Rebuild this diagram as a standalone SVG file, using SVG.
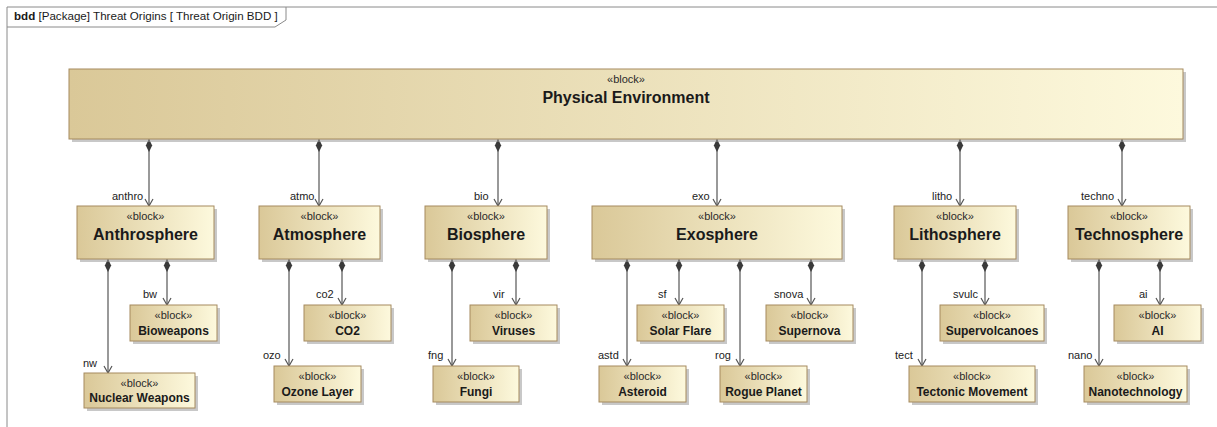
<svg xmlns="http://www.w3.org/2000/svg" width="1217" height="427" viewBox="0 0 1217 427">
<style>
  text { font-family: "Liberation Sans", Arial, sans-serif; fill: #1a1a1a; }
  .box { fill: url(#blk); stroke: #a58a5f; stroke-width: 1; }
  .shd { fill: #9a9a9a; opacity: 0.55; }
  .st { font-size: 11px; text-anchor: middle; fill: #2a2a2a; }
  .big { font-size: 16px; font-weight: bold; text-anchor: middle; }
  .sm { font-size: 12px; font-weight: bold; text-anchor: middle; }
  .lbl { font-size: 11px; fill: #222; }
  .con { stroke: #555; stroke-width: 1.2; fill: none; marker-start: url(#dia); marker-end: url(#arr); }
  .frame { fill: none; stroke: #8a8a8a; stroke-width: 1; }
</style>
<defs>
  <linearGradient id="blk" x1="0" y1="0" x2="1" y2="0">
    <stop offset="0" stop-color="#dac898"/>
    <stop offset="1" stop-color="#fdf9dd"/>
  </linearGradient>
  <marker id="dia" markerUnits="userSpaceOnUse" viewBox="0 -4 14 8" markerWidth="14" markerHeight="8" refX="0" refY="0" orient="auto">
    <path d="M0,0 L6.5,-3.2 L13,0 L6.5,3.2 z" fill="#3a3a3a"/>
  </marker>
  <marker id="arr" markerUnits="userSpaceOnUse" viewBox="-9 -5 10 10" markerWidth="10" markerHeight="10" refX="0" refY="0" orient="auto">
    <path d="M-7,-4 L0,0 L-7,4" fill="none" stroke="#555" stroke-width="1.2"/>
  </marker>
</defs>
<rect x="0" y="0" width="1217" height="427" fill="#ffffff"/>

<g id="frame">
  <path class="frame" d="M7,427 L7,7 L1217,7"/>
  <path class="frame" d="M7,27 L275,27 L286,20 L286,7"/>
  <text x="14" y="20" style="font-size:11.6px"><tspan font-weight="bold">bdd</tspan> [Package] Threat Origins [ Threat Origin BDD ]</text>
</g>

<g id="connectors">
  <line class="con" x1="149" y1="139" x2="149" y2="206"/>
  <line class="con" x1="319" y1="139" x2="319" y2="206"/>
  <line class="con" x1="498" y1="139" x2="498" y2="206"/>
  <line class="con" x1="717" y1="139" x2="717" y2="206"/>
  <line class="con" x1="960" y1="139" x2="960" y2="206"/>
  <line class="con" x1="1122" y1="139" x2="1122" y2="206"/>
  <line class="con" x1="108" y1="259" x2="108" y2="373"/>
  <line class="con" x1="167" y1="259" x2="167" y2="305"/>
  <line class="con" x1="289" y1="259" x2="289" y2="366"/>
  <line class="con" x1="342" y1="259" x2="342" y2="305"/>
  <line class="con" x1="452" y1="259" x2="452" y2="366"/>
  <line class="con" x1="516" y1="259" x2="516" y2="305"/>
  <line class="con" x1="627" y1="259" x2="627" y2="366"/>
  <line class="con" x1="679" y1="259" x2="679" y2="305"/>
  <line class="con" x1="740" y1="259" x2="740" y2="366"/>
  <line class="con" x1="811" y1="259" x2="811" y2="305"/>
  <line class="con" x1="922" y1="259" x2="922" y2="366"/>
  <line class="con" x1="985" y1="259" x2="985" y2="305"/>
  <line class="con" x1="1099" y1="259" x2="1099" y2="366"/>
  <line class="con" x1="1160" y1="259" x2="1160" y2="305"/>
  <text class="lbl" x="112" y="200">anthro</text>
  <text class="lbl" x="290" y="200">atmo</text>
  <text class="lbl" x="474" y="200">bio</text>
  <text class="lbl" x="692" y="200">exo</text>
  <text class="lbl" x="932" y="200">litho</text>
  <text class="lbl" x="1081" y="200">techno</text>
  <text class="lbl" x="143" y="298">bw</text>
  <text class="lbl" x="316" y="298">co2</text>
  <text class="lbl" x="493" y="298">vir</text>
  <text class="lbl" x="658" y="298">sf</text>
  <text class="lbl" x="774" y="298">snova</text>
  <text class="lbl" x="953" y="298">svulc</text>
  <text class="lbl" x="1139" y="298">ai</text>
  <text class="lbl" x="83" y="367">nw</text>
  <text class="lbl" x="263" y="359">ozo</text>
  <text class="lbl" x="428" y="359">fng</text>
  <text class="lbl" x="598" y="359">astd</text>
  <text class="lbl" x="715" y="359">rog</text>
  <text class="lbl" x="895" y="359">tect</text>
  <text class="lbl" x="1068" y="359">nano</text>
</g>

<g id="physical-environment">
  <rect class="shd" x="72" y="72" width="1114" height="70"/>
  <rect class="box" x="69" y="69" width="1114" height="70"/>
  <text class="st" x="626" y="83">«block»</text>
  <text class="big" x="626" y="102.5">Physical Environment</text>
</g>

<g id="anthrosphere">
  <rect class="shd" x="80" y="209" width="137" height="53"/>
  <rect class="box" x="77" y="206" width="137" height="53"/>
  <text class="st" x="145.5" y="220">«block»</text>
  <text class="big" x="145.5" y="239.5">Anthrosphere</text>
</g>
<g id="atmosphere">
  <rect class="shd" x="262" y="209" width="121" height="53"/>
  <rect class="box" x="259" y="206" width="121" height="53"/>
  <text class="st" x="319.5" y="220">«block»</text>
  <text class="big" x="319.5" y="239.5">Atmosphere</text>
</g>
<g id="biosphere">
  <rect class="shd" x="428" y="209" width="122" height="53"/>
  <rect class="box" x="425" y="206" width="122" height="53"/>
  <text class="st" x="486" y="220">«block»</text>
  <text class="big" x="486" y="239.5">Biosphere</text>
</g>
<g id="exosphere">
  <rect class="shd" x="595" y="209" width="250" height="53"/>
  <rect class="box" x="592" y="206" width="250" height="53"/>
  <text class="st" x="717" y="220">«block»</text>
  <text class="big" x="717" y="239.5">Exosphere</text>
</g>
<g id="lithosphere">
  <rect class="shd" x="897" y="209" width="122" height="53"/>
  <rect class="box" x="894" y="206" width="122" height="53"/>
  <text class="st" x="955" y="220">«block»</text>
  <text class="big" x="955" y="239.5">Lithosphere</text>
</g>
<g id="technosphere">
  <rect class="shd" x="1071" y="209" width="122" height="53"/>
  <rect class="box" x="1068" y="206" width="122" height="53"/>
  <text class="st" x="1129" y="220">«block»</text>
  <text class="big" x="1129" y="239.5">Technosphere</text>
</g>

<g id="bioweapons">
  <rect class="shd" x="133" y="308" width="87" height="36"/>
  <rect class="box" x="130" y="305" width="87" height="36"/>
  <text class="st" x="173.5" y="318.5">«block»</text>
  <text class="sm" x="173.5" y="334.5">Bioweapons</text>
</g>
<g id="co2">
  <rect class="shd" x="307" y="308" width="87" height="36"/>
  <rect class="box" x="304" y="305" width="87" height="36"/>
  <text class="st" x="347.5" y="318.5">«block»</text>
  <text class="sm" x="347.5" y="334.5">CO2</text>
</g>
<g id="viruses">
  <rect class="shd" x="473" y="308" width="87" height="36"/>
  <rect class="box" x="470" y="305" width="87" height="36"/>
  <text class="st" x="513.5" y="318.5">«block»</text>
  <text class="sm" x="513.5" y="334.5">Viruses</text>
</g>
<g id="solar-flare">
  <rect class="shd" x="640" y="308" width="87" height="36"/>
  <rect class="box" x="637" y="305" width="87" height="36"/>
  <text class="st" x="680.5" y="318.5">«block»</text>
  <text class="sm" x="680.5" y="334.5">Solar Flare</text>
</g>
<g id="supernova">
  <rect class="shd" x="769" y="308" width="87" height="36"/>
  <rect class="box" x="766" y="305" width="87" height="36"/>
  <text class="st" x="809.5" y="318.5">«block»</text>
  <text class="sm" x="809.5" y="334.5">Supernova</text>
</g>
<g id="supervolcanoes">
  <rect class="shd" x="943" y="308" width="104" height="36"/>
  <rect class="box" x="940" y="305" width="104" height="36"/>
  <text class="st" x="992" y="318.5">«block»</text>
  <text class="sm" x="992" y="334.5">Supervolcanoes</text>
</g>
<g id="ai">
  <rect class="shd" x="1117" y="308" width="87" height="36"/>
  <rect class="box" x="1114" y="305" width="87" height="36"/>
  <text class="st" x="1157.5" y="318.5">«block»</text>
  <text class="sm" x="1157.5" y="334.5">AI</text>
</g>

<g id="nuclear-weapons">
  <rect class="shd" x="87" y="376" width="111" height="35"/>
  <rect class="box" x="84" y="373" width="111" height="35"/>
  <text class="st" x="139.5" y="386.5">«block»</text>
  <text class="sm" x="139.5" y="402">Nuclear Weapons</text>
</g>
<g id="ozone-layer">
  <rect class="shd" x="277" y="369" width="87" height="36"/>
  <rect class="box" x="274" y="366" width="87" height="36"/>
  <text class="st" x="317.5" y="379.5">«block»</text>
  <text class="sm" x="317.5" y="395.5">Ozone Layer</text>
</g>
<g id="fungi">
  <rect class="shd" x="436" y="369" width="86" height="36"/>
  <rect class="box" x="433" y="366" width="86" height="36"/>
  <text class="st" x="476" y="379.5">«block»</text>
  <text class="sm" x="476" y="395.5">Fungi</text>
</g>
<g id="asteroid">
  <rect class="shd" x="602" y="369" width="87" height="36"/>
  <rect class="box" x="599" y="366" width="87" height="36"/>
  <text class="st" x="642.5" y="379.5">«block»</text>
  <text class="sm" x="642.5" y="395.5">Asteroid</text>
</g>
<g id="rogue-planet">
  <rect class="shd" x="723" y="369" width="87" height="36"/>
  <rect class="box" x="720" y="366" width="87" height="36"/>
  <text class="st" x="763.5" y="379.5">«block»</text>
  <text class="sm" x="763.5" y="395.5">Rogue Planet</text>
</g>
<g id="tectonic-movement">
  <rect class="shd" x="912" y="369" width="126" height="36"/>
  <rect class="box" x="909" y="366" width="126" height="36"/>
  <text class="st" x="972" y="379.5">«block»</text>
  <text class="sm" x="972" y="395.5">Tectonic Movement</text>
</g>
<g id="nanotechnology">
  <rect class="shd" x="1087" y="369" width="103" height="36"/>
  <rect class="box" x="1084" y="366" width="103" height="36"/>
  <text class="st" x="1135.5" y="379.5">«block»</text>
  <text class="sm" x="1135.5" y="395.5">Nanotechnology</text>
</g>
</svg>
